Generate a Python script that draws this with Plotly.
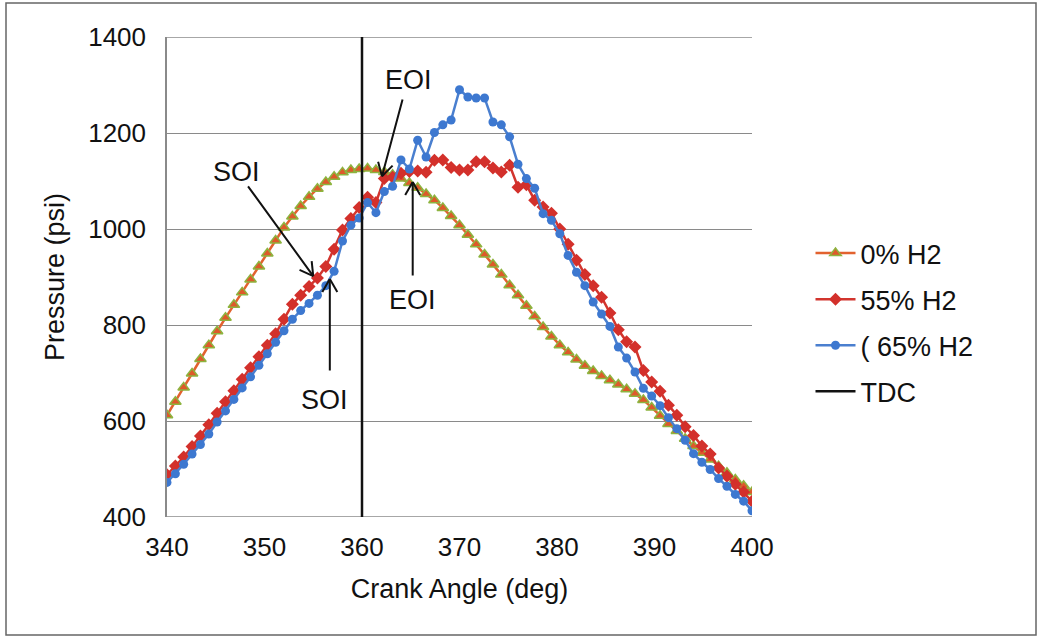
import math
import plotly.graph_objects as go

# ---------------- data ----------------
crank_angle = [340.00, 340.86, 341.71, 342.57, 343.43, 344.29, 345.14, 346.00, 346.86, 347.71,
               348.57, 349.43, 350.29, 351.14, 352.00, 352.86, 353.71, 354.57, 355.43, 356.29,
               357.14, 358.00, 358.86, 359.71, 360.57, 361.43, 362.29, 363.14, 364.00, 364.86,
               365.71, 366.57, 367.43, 368.29, 369.14, 370.00, 370.86, 371.71, 372.57, 373.43,
               374.29, 375.14, 376.00, 376.86, 377.71, 378.57, 379.43, 380.29, 381.14, 382.00,
               382.86, 383.71, 384.57, 385.43, 386.29, 387.14, 388.00, 388.86, 389.71, 390.57,
               391.43, 392.29, 393.14, 394.00, 394.86, 395.71, 396.57, 397.43, 398.29, 399.14,
               400.00]

p_0 = [612, 640, 670, 699, 729, 758, 787, 815, 842, 868,
       895, 922, 949, 976, 1003, 1026, 1048, 1067, 1084, 1098,
       1109, 1118, 1123, 1125, 1126, 1123, 1119, 1113, 1105, 1096,
       1086, 1073, 1060, 1044, 1027, 1008, 988, 968, 947, 926,
       905, 883, 862, 840, 818, 796, 776, 758, 743, 728,
       715, 704, 694, 685, 676, 666, 657, 644, 628, 611,
       594, 579, 563, 548, 534, 520, 506, 492, 478, 465,
       452]

p_55 = [488, 506, 525, 547, 569, 592, 616, 640, 663, 687,
        711, 734, 758, 782, 812, 843, 862, 880, 898, 922,
        958, 998, 1022, 1045, 1066, 1055, 1105, 1108, 1116, 1120,
        1121, 1118, 1143, 1144, 1128, 1123, 1123, 1140, 1140, 1127,
        1119, 1133, 1087, 1092, 1060, 1046, 1033, 1000, 968, 935,
        905, 882, 858, 825, 790, 765, 754, 705, 681, 662,
        633, 612, 588, 570, 548, 531, 502, 485, 468, 452,
        433]

p_65 = [472, 490, 510, 531, 551, 573, 598, 621, 645, 669,
        692, 716, 740, 764, 788, 812, 830, 845, 862, 882,
        912, 975, 1008, 1023, 1055, 1034, 1078, 1089, 1144, 1125,
        1185, 1150, 1201, 1217, 1227, 1290, 1275, 1273, 1273, 1223,
        1217, 1192, 1135, 1105, 1085, 1032, 1018, 990, 945, 910,
        882, 848, 823, 797, 754, 731, 702, 668, 652, 632,
        607, 584, 560, 532, 514, 499, 480, 464, 447, 433,
        413]

tdc_x = [360, 360]
tdc_y = [400, 1400]

series_names = ["0% H2", "55% H2", "( 65% H2", "TDC"]

x_ticks = [340, 350, 360, 370, 380, 390, 400]
y_ticks = [400, 600, 800, 1000, 1200, 1400]

# annotations: (text, text_x, text_y, tail_x, tail_y, tip_x, tip_y)
notes = [
    ("SOI", 347.1, 1119, 348.2, 1092, 355.0, 902),
    ("SOI", 356.2, 644, 356.7, 702, 356.7, 896),
    ("EOI", 364.8, 1310, 364.2, 1273, 362.05, 1110),
    ("EOI", 365.2, 852, 365.2, 900, 365.2, 1098),
]

# ---------------- figure ----------------
FONT = "Liberation Sans, Arial, sans-serif"
INK = "#111111"
W, H = 1041, 640
L, R, T, B = 167, 289, 37, 123
XR = [340, 400]
YR = [400, 1400]
sx = (W - L - R) / (XR[1] - XR[0])
sy = (H - T - B) / (YR[1] - YR[0])

fig = go.Figure()

fig.add_trace(go.Scatter(
    x=crank_angle, y=p_0, name=series_names[0], mode="lines+markers",
    line=dict(color="#e2622f", width=2.5),
    marker=dict(symbol="triangle-up", size=10, color="#dd5a2a",
                line=dict(color="#8db43f", width=1.5)),
    legendgroup="a"))
fig.add_trace(go.Scatter(
    x=crank_angle, y=p_55, name=series_names[1], mode="lines+markers",
    line=dict(color="#d2352e", width=2.5),
    marker=dict(symbol="diamond", size=10, color="#d3302b"),
    legendgroup="b"))
fig.add_trace(go.Scatter(
    x=crank_angle, y=p_65, name=series_names[2], mode="lines+markers",
    line=dict(color="#4a7fcf", width=2.5),
    marker=dict(symbol="circle", size=9, color="#3d78d0"),
    legendgroup="c"))
fig.add_trace(go.Scatter(
    x=tdc_x, y=tdc_y, name=series_names[3], mode="lines",
    line=dict(color=INK, width=2.5),
    legendgroup="d"))

shapes = []
annotations = []
for text, tx, ty, ax0, ay0, px_, py_ in notes:
    annotations.append(dict(x=tx, y=ty, xref="x", yref="y", text=text, showarrow=False,
                            font=dict(family=FONT, size=27, color=INK)))
    annotations.append(dict(x=px_, y=py_, xref="x", yref="y", ax=ax0, ay=ay0,
                            axref="x", ayref="y", text="", showarrow=True,
                            arrowhead=0, arrowwidth=2, arrowcolor=INK))
    # open V arrowhead
    dx = (px_ - ax0) * sx
    dy = (py_ - ay0) * sy
    n = math.hypot(dx, dy)
    bx, by = -dx / n, -dy / n
    for ang in (math.radians(30), -math.radians(30)):
        rx = bx * math.cos(ang) - by * math.sin(ang)
        ry = bx * math.sin(ang) + by * math.cos(ang)
        shapes.append(dict(type="line", xref="x", yref="y",
                           xsizemode="pixel", ysizemode="pixel",
                           xanchor=px_, yanchor=py_,
                           x0=0, y0=0, x1=rx * 15, y1=ry * 15,
                           line=dict(color=INK, width=2)))

# top and bottom grid lines (at the range edges)
for yv in (YR[0], YR[1]):
    shapes.append(dict(type="line", xref="paper", yref="y", x0=0, x1=1, y0=yv, y1=yv,
                       line=dict(color="#8a8a8a", width=1.5), layer="below"))

# outer frame
shapes.append(dict(type="rect", xref="paper", yref="paper",
                   x0=(6 - L) / (W - L - R), x1=(1036 - L) / (W - L - R),
                   y0=(H - B - 635) / (H - T - B), y1=(H - B - 3) / (H - T - B),
                   line=dict(color="#666666", width=1.5), layer="below"))

fig.update_layout(
    width=W, height=H,
    margin=dict(l=L, r=R, t=T, b=B),
    paper_bgcolor="white", plot_bgcolor="white",
    font=dict(family=FONT, size=26, color=INK),
    shapes=shapes, annotations=annotations,
    showlegend=True,
    legend=dict(x=1.1, y=0.6, xanchor="left", yanchor="top",
                font=dict(family=FONT, size=27, color=INK),
                tracegroupgap=8, itemwidth=40, bgcolor="rgba(0,0,0,0)"),
)
fig.update_xaxes(range=XR, tickvals=x_ticks,
                 showgrid=False, zeroline=False, showline=False,
                 ticks="", ticklabelstandoff=12,
                 tickfont=dict(family=FONT, size=26, color=INK),
                 title=dict(text="Crank Angle (deg)", standoff=18,
                            font=dict(family=FONT, size=27, color=INK)))
fig.update_yaxes(range=YR, tickvals=y_ticks,
                 showgrid=True, gridcolor="#8a8a8a", gridwidth=1.2,
                 zeroline=False, showline=True, linecolor="#8a8a8a", linewidth=1.5,
                 ticks="", ticklabelstandoff=14,
                 tickfont=dict(family=FONT, size=26, color=INK),
                 title=dict(text="Pressure (psi)", standoff=16,
                            font=dict(family=FONT, size=27, color=INK)))

fig.write_html("out.html")
